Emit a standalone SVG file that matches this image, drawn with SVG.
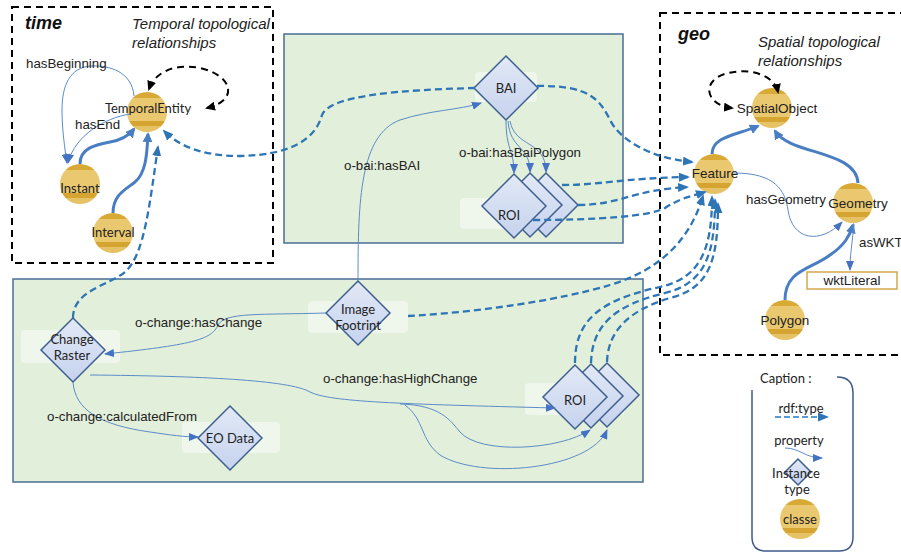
<svg xmlns="http://www.w3.org/2000/svg" width="901" height="554" viewBox="0 0 901 554">
<defs>
<style>
.bg{fill:#fff}
.zone{fill:none;stroke:#000;stroke-width:2;stroke-dasharray:7,5}
.green{fill:#E2EFDA;stroke:#4A6E96;stroke-width:1.5}
.lbg{fill:#fff;fill-opacity:0.45}
.dia{fill:url(#gDia);stroke:#3F5F8F;stroke-width:1.5}
.cls{fill:url(#gCls)}
.nt{font-family:Lato,"Liberation Sans",sans-serif;font-size:13px;fill:#222;text-anchor:middle}
.gt{font-family:"Liberation Sans",Arial,sans-serif;font-size:13.5px;fill:#222;text-anchor:middle}
.el{font-family:"Liberation Sans",Arial,sans-serif;font-size:13.3px;fill:#222}
.ttl{font-family:"Liberation Sans",Arial,sans-serif;font-size:18px;font-weight:bold;font-style:italic;fill:#111}
.sub{font-family:"Liberation Sans",Arial,sans-serif;font-size:15px;font-style:italic;fill:#222}
.thick{fill:none;stroke:#4A7EC3;stroke-width:3;marker-end:url(#arrT)}
.prop{fill:none;stroke:#5B8CC8;stroke-width:1;marker-end:url(#arrP)}
.typ{fill:none;stroke:#2E75B6;stroke-width:2.3;stroke-dasharray:7,4;marker-end:url(#arrD)}
.blk{fill:none;stroke:#000;stroke-width:2;stroke-dasharray:7,5;marker-start:url(#arrK);marker-end:url(#arrK)}
</style>
<linearGradient id="gCls" x1="0" y1="0" x2="0" y2="1">
<stop offset="0" stop-color="#D8A935"/><stop offset="0.15" stop-color="#D8A935"/>
<stop offset="0.15" stop-color="#EAC870"/><stop offset="0.72" stop-color="#EAC870"/>
<stop offset="0.72" stop-color="#D6A430"/><stop offset="0.86" stop-color="#D6A430"/>
<stop offset="0.86" stop-color="#E6C266"/><stop offset="1" stop-color="#E6C266"/>
</linearGradient>
<linearGradient id="gDia" x1="0" y1="0" x2="0" y2="1">
<stop offset="0" stop-color="#E2E9F6"/><stop offset="1" stop-color="#C6D3EE"/>
</linearGradient>
<path id="dmd" d="M0,-32 L32,0 L0,32 L-32,0 Z"/>
<marker id="arrT" markerWidth="10" markerHeight="10" refX="8" refY="5" orient="auto" markerUnits="userSpaceOnUse"><path d="M0,0 L10,5 L0,10 Z" fill="#4A7EC3"/></marker>
<marker id="arrP" markerWidth="10" markerHeight="8" refX="9" refY="4" orient="auto" markerUnits="userSpaceOnUse"><path d="M0,0 L10,4 L0,8 Z" fill="#4472C4"/></marker>
<marker id="arrD" markerWidth="11" markerHeight="9" refX="9" refY="4.5" orient="auto" markerUnits="userSpaceOnUse"><path d="M0,0 L11,4.5 L0,9 Z" fill="#2E75B6"/></marker>
<marker id="arrK" markerWidth="10" markerHeight="9" refX="8" refY="4.5" orient="auto-start-reverse" markerUnits="userSpaceOnUse"><path d="M0,0 L10,4.5 L0,9 Z" fill="#000"/></marker>
</defs>
<rect class="bg" x="0" y="0" width="901" height="554"/>

<g id="zone-time">
<rect class="zone" x="12" y="7" width="261" height="256"/>
<text class="ttl" x="25" y="29">time</text>
<text class="sub" x="132" y="29">Temporal topological</text>
<text class="sub" x="132" y="48">relationships</text>
</g>
<g id="zone-geo">
<rect class="zone" x="660" y="13" width="260" height="342"/>
<text class="ttl" x="678" y="40">geo</text>
<text class="sub" x="758" y="47">Spatial topological</text>
<text class="sub" x="758" y="66">relationships</text>
</g>
<g id="zone-bai"><rect class="green" x="284" y="34" width="339" height="209"/></g>
<g id="zone-change"><rect class="green" x="13" y="279" width="630" height="203"/></g>

<!-- time nodes -->
<g id="TemporalEntity"><circle class="cls" cx="147" cy="112" r="20"/><text class="nt" x="148" y="113">TemporalEntity</text></g>
<g id="Instant"><circle class="cls" cx="80" cy="184" r="20"/><text class="nt" x="80" y="193">Instant</text></g>
<g id="Interval"><circle class="cls" cx="113" cy="233" r="20"/><text class="nt" x="113" y="237">Interval</text></g>

<!-- BAI zone nodes -->
<g id="BAI"><rect class="lbg" x="475" y="72" width="62" height="30" rx="4"/><use href="#dmd" class="dia" x="506" y="88"/><text class="nt" x="506" y="93">BAI</text></g>
<g id="ROI-bai">
<rect class="lbg" x="460" y="198" width="97" height="31" rx="4"/>
<use href="#dmd" class="dia" x="546" y="205"/>
<use href="#dmd" class="dia" x="530" y="205"/>
<use href="#dmd" class="dia" x="514" y="206"/>
<text class="nt" x="509" y="220">ROI</text>
</g>

<!-- change zone nodes -->
<g id="ChangeRaster"><rect class="lbg" x="21" y="330" width="99" height="33" rx="4"/><use href="#dmd" class="dia" x="73" y="350"/><text class="nt" x="72" y="344">Change</text><text class="nt" x="72" y="360">Raster</text></g>
<g id="ImageFootrint"><rect class="lbg" x="308" y="301" width="100" height="32" rx="4"/><use href="#dmd" class="dia" x="358" y="313"/><text class="nt" x="358" y="314">Image</text><text class="nt" x="358" y="330">Footrint</text></g>
<g id="EOData"><rect class="lbg" x="182" y="422" width="98" height="31" rx="4"/><use href="#dmd" class="dia" x="230" y="438"/><text class="nt" x="230" y="443">EO Data</text></g>
<g id="ROI-change">
<rect class="lbg" x="525" y="383" width="100" height="32" rx="4"/>
<use href="#dmd" class="dia" x="607" y="395"/>
<use href="#dmd" class="dia" x="591" y="396"/>
<use href="#dmd" class="dia" x="575" y="397"/>
<text class="nt" x="575" y="405">ROI</text>
</g>

<!-- geo nodes -->
<g id="SpatialObject"><circle class="cls" cx="772" cy="108" r="20"/><text class="gt" x="777" y="113">SpatialObject</text></g>
<g id="Feature"><circle class="cls" cx="714" cy="174" r="20"/><text class="gt" x="715" y="178">Feature</text></g>
<g id="Geometry"><circle class="cls" cx="853" cy="203" r="20"/><text class="gt" x="858" y="208">Geometry</text></g>
<g id="Polygon"><circle class="cls" cx="785" cy="320" r="20"/><text class="gt" x="785" y="325">Polygon</text></g>
<g id="wktLiteral"><rect x="807" y="272" width="90" height="17" fill="#fff" stroke="#D4A84A" stroke-width="1.5"/><text class="gt" x="852" y="285">wktLiteral</text></g>

<g id="connectors">
<!-- time -->
<path class="blk" d="M207,108 C240,100 232,75 200,68 C175,63 155,72 149,89"/>
<path class="prop" d="M134,96 C132,72 110,65 90,66 C70,68 62,85 62,110 C62,130 65,150 67,163"/>
<path class="prop" d="M130,114 C105,118 75,135 68,163"/>
<path class="thick" d="M80,164 C80,148 95,145 110,142 C122,140 130,134 134,129"/>
<path class="thick" d="M113,213 C113,195 125,190 135,182 C147,172 147,150 148,134"/>
<path class="typ" d="M475,88 C400,90 330,95 322,115 C315,140 290,155 240,156 C200,156 178,145 164,131"/>
<path class="typ" d="M73,318 C73,290 110,285 125,272 C145,255 150,200 158,147"/>
<!-- BAI zone -->
<path class="prop" d="M358,281 C358,200 360,135 400,120 C430,110 460,110 481,103"/>
<path class="prop" d="M506,120 C506,150 514,150 514,173"/>
<path class="prop" d="M508,121 C510,150 530,145 530,172"/>
<path class="prop" d="M510,121 C515,148 546,140 546,172"/>
<path class="typ" d="M537,86 C590,85 600,100 610,120 C620,140 650,158 692,162"/>
<path class="typ" d="M562,185 C600,185 625,178 688,177"/>
<path class="typ" d="M578,205 C620,205 632,190 687,187"/>
<path class="typ" d="M533,220 C600,220 650,216 665,208 C680,198 692,196 705,192"/>
<!-- change zone -->
<path class="typ" d="M408,316 C480,312 560,300 610,285 C660,270 690,240 703,196"/>
<path class="typ" d="M575,363 C575,320 600,300 660,287 C700,278 712,250 712,197"/>
<path class="typ" d="M591,363 C592,325 615,305 665,293 C705,283 715,255 715,200"/>
<path class="typ" d="M607,362 C608,330 630,310 670,298 C710,288 718,260 718,204"/>
<path class="prop" d="M326,313 C260,315 225,312 218,325 C212,340 190,345 105,354"/>
<path class="prop" d="M73,382 C75,410 100,425 150,432 C170,435 185,437 198,437"/>
<path class="prop" d="M90,375 C200,376 290,380 310,392 C330,402 400,404 555,408"/>
<path class="prop" d="M400,404 C440,405 450,420 460,432 C480,455 560,450 590,430"/>
<path class="prop" d="M405,405 C425,420 420,440 440,455 C480,480 590,470 607,430"/>
<!-- geo -->
<path class="blk" d="M732,108 C705,105 700,80 728,73 C755,67 775,78 778,92"/>
<path class="thick" d="M712,154 C712,136 738,135 758,126"/>
<path class="thick" d="M858,183 C856,150 790,155 775,131"/>
<path class="thick" d="M785,300 C785,270 810,270 830,255 C845,245 850,235 853,225"/>
<path class="prop" d="M734,173 C775,173 785,190 788,210 C792,240 820,245 842,222"/>
<path class="prop" d="M854,224 C852,245 850,255 850,270"/>
</g>

<g id="edge-labels">
<text class="el" x="26" y="68">hasBeginning</text>
<text class="el" x="75" y="129">hasEnd</text>
<text class="el" x="344" y="170">o-bai:hasBAI</text>
<text class="el" x="459" y="157">o-bai:hasBaiPolygon</text>
<text class="el" x="746" y="204">hasGeometry</text>
<text class="el" x="859" y="247">asWKT</text>
<text class="el" x="135" y="327">o-change:hasChange</text>
<text class="el" x="47" y="421">o-change:calculatedFrom</text>
<text class="el" x="323" y="383">o-change:hasHighChange</text>
</g>

<g id="caption">
<path d="M837,377 Q853,377 853,393 L853,537 Q853,551 839,551 L766,551 Q752,551 752,537 L752,390" fill="none" stroke="#3D5A8A" stroke-width="1.5"/>
<text class="nt" x="760" y="383" style="text-anchor:start">Caption :</text>
<text class="nt" x="801" y="413">rdf:type</text>
<path d="M775,417 L827,417" fill="none" stroke="#5B9BD5" stroke-width="2" stroke-dasharray="6,3" marker-end="url(#arrD)"/>
<text class="nt" x="799" y="445">property</text>
<path class="prop" d="M785,448 C800,448 805,458 822,458"/>
<path d="M798,459 L811,472 L798,485 L785,472 Z" class="dia" stroke-width="1"/>
<text class="nt" x="796" y="478">Instance</text>
<text class="nt" x="797" y="494">type</text>
<circle class="cls" cx="800" cy="519" r="20"/>
<text class="nt" x="800" y="524">classe</text>
</g>
</svg>
